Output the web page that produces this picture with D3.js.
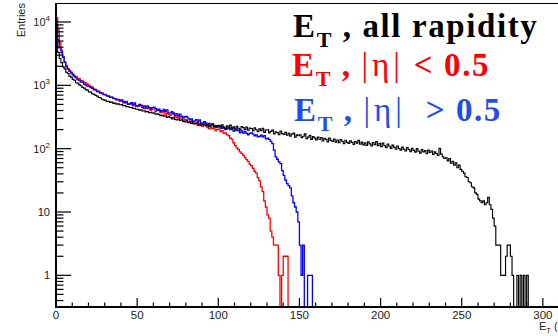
<!DOCTYPE html>
<html><head><meta charset="utf-8">
<script src="https://cdn.jsdelivr.net/npm/d3@7"></script>
<style>body{margin:0;background:#fff;} svg{display:block;} text{white-space:pre;}</style>
</head><body>
<svg id="c" width="558" height="336"></svg>
<script>
// ---- data (1 GeV bins starting at 0) ----
const binWidth = 1;
const blackCounts = [
4850,3300,2650,2280,1960,1820,1610,1540,1400,1350,
1240,1205,1100,1085,1015,985,930,905,855,840,
790,782,735,722,695,676,642,636,604,590,
578,556,561,538,542,519,524,506,509,494,
497,476,481,462,459,447,446,432,433,419,
418,407,409,394,396,382,386,371,374,362,
368,350,355,348,333,340,326,331,312,322,
310,296,309,290,284,293,279,286,270,265,
274,258,262,251,266,246,249,256,238,244,
236,247,229,238,225,232,241,224,230,219,
232,212,238,219,208,229,214,235,207,221,
203,226,210,198,224,215,201,219,196,212,
208,190,214,199,186,205,193,210,181,197,
199,178,188,196,171,185,179,166,190,172,
168,181,163,174,158,170,176,152,165,160,
166,149,157,171,144,152,162,140,155,147,
138,153,141,149,132,146,140,128,147,135,
130,142,127,137,124,139,131,120,136,126,
121,133,126,117,130,122,135,118,127,115,
124,113,128,119,110,125,116,129,112,121,
108,122,112,104,118,109,101,114,106,98,
110,100,95,106,98,92,104,97,90,101,
94,88,100,91,85,97,89,93,83,95,
87,92,81,89,84,78,101,82,74,70,
72,64,70,59,63,55,60,50,55,47,
44,41,36,35,30,29,25,24,20,19,
16,15,14,15,13,14,17,13,11,8,
6,3,3,3,1,1,1,2,3,3,
2,1,0,0,1,0,1,0,1,0,
1];
const redCounts = [
11700,7500,4700,3600,2800,2350,2070,1850,1720,1610,
1520,1410,1375,1290,1260,1190,1170,1110,1095,1040,
1010,950,935,880,862,820,808,768,757,722,
718,688,679,652,646,624,617,592,594,566,
577,529,553,560,508,510,527,474,496,473,
461,477,489,445,429,453,430,449,401,420,
422,388,406,412,374,376,389,350,366,349,
340,350,356,322,309,324,305,316,279,290,
288,263,273,275,249,249,258,232,242,231,
225,233,237,216,207,218,206,215,192,202,
203,186,192,174,178,165,160,146,141,124,
112,103,97,89,84,79,72,67,63,57,
54,49,44,41,35,31,25,21,15,12,
9,8,5,4,3,3,3,1,0,1,
2,2,2];
const blueCounts = [
8900,5200,3900,3300,2800,2300,1950,1800,1660,1560,
1460,1370,1310,1235,1200,1130,1110,1050,1010,970,
965,918,900,852,838,795,790,752,748,712,
706,681,673,648,652,621,618,594,599,570,
588,563,528,541,502,510,532,500,528,471,
475,498,478,444,475,441,473,445,422,444,
452,434,407,419,390,397,416,390,411,367,
368,384,366,337,358,331,351,327,307,319,
322,307,287,294,272,275,287,269,284,253,
255,266,255,236,251,233,248,232,220,231,
234,224,210,216,200,204,213,200,212,190,
192,201,192,178,190,176,187,175,166,174,
177,170,160,165,153,156,163,153,161,143,
146,140,130,120,95,74,68,62,58,45,
38,32,28,26,24,18,14,12,10,7,
3,1,3,0,0,1,1,1];
// histogram ranges (GeV); bins beyond the listed counts are empty
const rangeEnds = {black: 310, red: 280, blue: 280};
const xTicksMajor = [0,50,100,150,200,250,300];
const yDecades = [1,10,100,1000,10000];
const yLabelBase = ["1","10","10","10","10"];
const yLabelExp  = ["","","2","3","4"];
const legendPre  = [" , all rapidity", " , ", " , "];
const legendSym  = ["", "|\u03b7|", "|\u03b7|"];
const legendPost = ["", " < 0.5", "  > 0.5"];
const legendColors = ["#000000", "#ff0000", "#1f4fe6"];
const lineColors = {black:"#000000", red:"#ff0000", blue:"#0000ff"};

// ---- layout ----
const svg = d3.select("#c");
const x = d3.scaleLinear().domain([0, 310]).range([56, 559.1]);
const y = d3.scaleLog().domain([Math.pow(10,-0.5), Math.pow(10,4.3)]).range([307, 3]);
const yb = y.range()[0];

svg.append("defs").append("clipPath").attr("id","clip")
  .append("rect").attr("x",56).attr("y",3).attr("width",510).attr("height",304);

function histPath(counts, end){
  const n = Math.round(end/binWidth);
  const pts = [[x(0), yb]];
  for(let i=0;i<n;i++){
    const v = counts[i] || 0;
    const yy = v>0 ? y(v) : yb;
    pts.push([x(i*binWidth), yy]);
    pts.push([x((i+1)*binWidth), yy]);
  }
  pts.push([x(n*binWidth), yb]);
  return d3.line()(pts);
}
const hg = svg.append("g").attr("clip-path","url(#clip)");
[["red",redCounts,1.3],["blue",blueCounts,1.3],["black",blackCounts,1.15]].forEach(([k,c,w])=>{
  hg.append("path").attr("d", histPath(c, rangeEnds[k]))
    .attr("fill","none").attr("stroke", lineColors[k]).attr("stroke-width",w)
    .attr("stroke-linejoin","miter");
});

// frame
svg.append("line").attr("x1",56).attr("x2",558).attr("y1",3.5).attr("y2",3.5).attr("stroke","#000").attr("stroke-width",1);
svg.append("line").attr("x1",56).attr("x2",56).attr("y1",3).attr("y2",308).attr("stroke","#000").attr("stroke-width",2);
svg.append("line").attr("x1",55).attr("x2",558).attr("y1",307).attr("y2",307).attr("stroke","#000").attr("stroke-width",2);

// y ticks
const ax = svg.append("g").attr("stroke","#000").attr("stroke-width",1.2);
const [ylo, yhi] = y.domain();
for(let e=-1;e<=4;e++){
  for(let m=1;m<=9;m++){
    const v = m*Math.pow(10,e);
    if(v<ylo || v>yhi) continue;
    const len = m===1 ? 15 : 7.5;
    ax.append("line").attr("x1",56).attr("x2",56+len).attr("y1",y(v)).attr("y2",y(v));
  }
}
// x ticks
for(let t=0;t<=310;t+=10){
  const len = (t%50===0) ? 9 : 4.5;
  ax.append("line").attr("x1",x(t)).attr("x2",x(t)).attr("y1",307).attr("y2",307-len);
}

const font = "'Liberation Sans', Arial, Helvetica, sans-serif";
// y labels
yDecades.forEach((v,i)=>{
  const t = svg.append("text").attr("x",50).attr("y",y(v)+4)
    .attr("text-anchor","end").attr("font-family",font).attr("font-size",11).attr("fill","#222");
  t.append("tspan").text(yLabelBase[i]);
  if(yLabelExp[i]) t.append("tspan").attr("dy",-5).attr("font-size",8).text(yLabelExp[i]);
});
// x labels
xTicksMajor.forEach(v=>{
  svg.append("text").attr("x",x(v)).attr("y",319).attr("text-anchor","middle")
    .attr("font-family",font).attr("font-size",11.5).attr("fill","#222").text(v);
});
// axis titles
svg.append("text").attr("transform","translate(25,3) rotate(-90)").attr("text-anchor","end")
  .attr("font-family",font).attr("font-size",11).attr("fill","#222").text("Entries");
const xt = svg.append("text").attr("x",539).attr("y",330).attr("font-family",font).attr("font-size",11).attr("fill","#222");
xt.append("tspan").text("E");
xt.append("tspan").attr("dy",3).attr("font-size",7.5).text("T");
xt.append("tspan").attr("dy",-3).text(" (GeV)");

// legend text
const lx = [293, 292, 294], ly = [37, 76, 121];
legendPre.forEach((s,i)=>{
  const t = svg.append("text").attr("x",lx[i]).attr("y",ly[i])
    .attr("font-family","'Liberation Serif','Times New Roman',serif").attr("font-weight","bold")
    .attr("font-size",33).attr("letter-spacing",1.6).attr("fill",legendColors[i]);
  t.append("tspan").text("E");
  t.append("tspan").attr("dy",10).attr("font-size",22).text("T");
  t.append("tspan").attr("dy",-10).text(s);
  if(legendSym[i]) t.append("tspan").attr("font-weight","normal").attr("letter-spacing",4).text(legendSym[i]);
  if(legendPost[i]) t.append("tspan").text(legendPost[i]);
});
</script>
</body></html>
